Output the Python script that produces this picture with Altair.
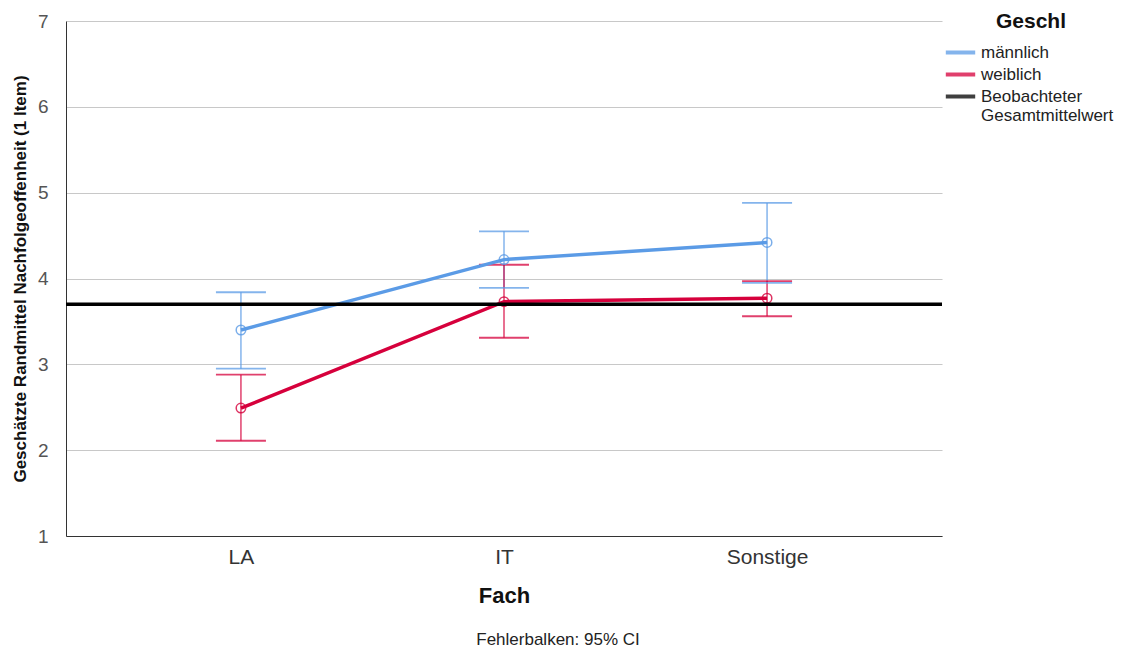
import altair as alt
import pandas as pd

fach = ["LA", "IT", "Sonstige"]
geschl = ["männlich", "weiblich"]
male_mean = [3.40, 4.22, 4.42]
male_lo = [2.95, 3.89, 3.95]
male_hi = [3.84, 4.55, 4.88]
female_mean = [2.49, 3.73, 3.77]
female_lo = [2.11, 3.31, 3.56]
female_hi = [2.88, 4.16, 3.97]
grand_mean = 3.70
grand_label = "Beobachteter Gesamtmittelwert"
footer = "Fehlerbalken: 95% CI"

rows = []
for g, m, lo, hi in [("männlich", male_mean, male_lo, male_hi),
                     ("weiblich", female_mean, female_lo, female_hi)]:
    for i, f in enumerate(fach):
        rows.append({"Fach": f, "Geschl": g, "mean": m[i], "lo": lo[i], "hi": hi[i]})
df = pd.DataFrame(rows)

color_scale = alt.Scale(domain=geschl + [grand_label],
                        range=["#5b9be6", "#d6003c", "#000000"])
xenc = alt.X("Fach:N", sort=fach,
             scale=alt.Scale(type="point", padding=0.665),
             axis=alt.Axis(title="Fach", labelAngle=0, ticks=False, labelPadding=10,
                           titlePadding=18, labelFontSize=21, labelColor="#333333",
                           titleFontSize=22, titleFontWeight="bold", titleColor="#111111",
                           domainColor="#333333", grid=False))
yscale = alt.Scale(domain=[1, 7], nice=False, zero=False)
yaxis = alt.Axis(title="Geschätzte Randmittel Nachfolgeoffenheit (1 Item)",
                 values=[1, 2, 3, 4, 5, 6, 7], format="d", ticks=False, labelPadding=18,
                 labelFontSize=19, labelColor="#555555", titleFontSize=17,
                 titleFontWeight="bold", titleColor="#111111", titlePadding=8,
                 domainColor="#333333", grid=True, gridColor="#c8c8c8", gridWidth=1.2)

color = alt.Color("Geschl:N", scale=color_scale,
                  legend=alt.Legend(title="Geschl", orient="none", legendX=882, legendY=-10,
                                    symbolType="M-1.4,0H1.4", symbolStrokeWidth=4, symbolSize=441,
                                    titleFontSize=21, titleFontWeight="bold", titleAnchor="middle",
                                    titleColor="#111111", labelFontSize=17, labelColor="#222222",
                                    titlePadding=8, rowPadding=1, labelOffset=8,
                                    labelExpr="datum.label == 'Beobachteter Gesamtmittelwert' ? ['Beobachteter', 'Gesamtmittelwert'] : datum.label"))

base = alt.Chart(df)
rule = base.mark_rule(strokeWidth=1.5, opacity=0.75).encode(
    x=xenc, y=alt.Y("lo:Q", scale=yscale, axis=yaxis), y2="hi:Q", color=color)
cap_lo = base.mark_tick(size=50, thickness=1.8, opacity=0.75).encode(
    x=xenc, y=alt.Y("lo:Q", scale=yscale), color=color)
cap_hi = base.mark_tick(size=50, thickness=1.8, opacity=0.75).encode(
    x=xenc, y=alt.Y("hi:Q", scale=yscale), color=color)
line = base.mark_line(strokeWidth=3.5).encode(
    x=xenc, y=alt.Y("mean:Q", scale=yscale), color=color)
pts = base.mark_point(filled=False, size=90, strokeWidth=1.5, opacity=0.8).encode(
    x=xenc, y=alt.Y("mean:Q", scale=yscale), color=color)

gm = alt.Chart(pd.DataFrame({"y": [grand_mean], "Geschl": [grand_label]})).mark_rule(
    strokeWidth=3.5).encode(y=alt.Y("y:Q", scale=yscale), color=color)

foot = alt.Chart(pd.DataFrame({"t": [footer]})).mark_text(
    fontSize=17, color="#222222", font="Liberation Sans").encode(
    text="t:N", x=alt.value(492), y=alt.value(619))

chart = alt.layer(rule, cap_lo, cap_hi, line, pts, gm, foot).properties(
    width=876, height=515,
    autosize=alt.AutoSizeParams(type="none"),
    padding={"left": 58, "top": 13, "right": 175, "bottom": 117},
).configure(font="Liberation Sans").configure_view(stroke=None)

chart.save("out.html", embed_options={"renderer": "svg", "actions": False})
